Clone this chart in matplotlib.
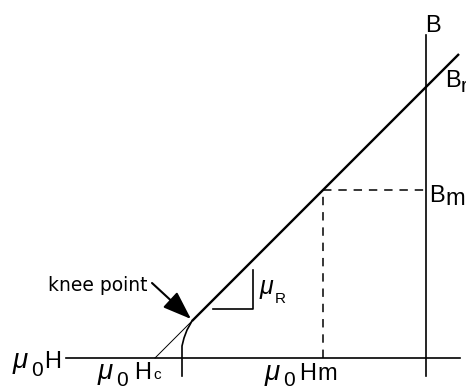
import matplotlib as mpl
mpl.use('Agg')
import matplotlib.pyplot as plt
from matplotlib.transforms import IdentityTransform

# recoil line of a permanent magnet in the second quadrant (units: mu0*H and B)
Br = 2.71            # remanence, where the recoil line cuts the B axis
mu_R = 1.0           # recoil permeability, slope of the line
H_knee = -2.34       # knee point
H_m = -1.03          # working point
H_end = 0.33         # line runs a little past the B axis
H_axis = [-3.60, 0.34]
B_axis = [-0.18, 3.23]

# bend of the curve below the knee point
knee_H = [-2.34, -2.39, -2.42, -2.44, -2.44, -2.44]
knee_B = [0.37, 0.28, 0.20, 0.12, 0.0, -0.18]

# little slope marker for mu_R
slope_H = [-2.13, -1.73, -1.73]
slope_B = [0.49, 0.49, 0.88]

B_knee = Br + mu_R * H_knee
H_c = -Br / mu_R
B_m = Br + mu_R * H_m

fig = plt.figure(figsize=(4.66, 3.92), dpi=100)
ax = fig.add_axes([0, 0, 1, 1])
ax.set_xlim(-4.26, 0.40)
ax.set_ylim(-0.34, 3.58)
ax.axis('off')

ax.plot(H_axis, [0, 0], color='black', lw=1.2)
ax.plot([0, 0], B_axis, color='black', lw=1.2)
ax.plot([H_knee, H_end], [B_knee, Br + mu_R * H_end], color='black', lw=1.7,
        solid_capstyle='butt')
ax.plot([H_c, H_knee], [0, B_knee], color='black', lw=0.7)
ax.plot(knee_H, knee_B, color='black', lw=1.2)
ax.plot([H_m, H_m, 0], [0, B_m, B_m], color='black', lw=1.1,
        linestyle=(0, (5.5, 4.5)))
ax.plot(slope_H, slope_B, color='black', lw=1.2)

ax.annotate('', xy=(H_knee - 0.01, B_knee + 0.02), xytext=(-2.74, 0.75),
            arrowprops=dict(arrowstyle='-|>,head_length=1.1,head_width=0.4',
                            mutation_scale=16, color='black', lw=1.5,
                            shrinkA=0, shrinkB=0))

renderer = fig.canvas.get_renderer()


def label(x, y, parts):
    # parts: (text, size, gap before in px, drop in px, italic)
    px, py = ax.transData.transform((x, y))
    for s, size, gap, drop, italic in parts:
        px += gap
        t = ax.text(px, py - drop, s, transform=IdentityTransform(),
                    fontsize=size, family='Liberation Sans',
                    style='italic' if italic else 'normal',
                    ha='left', va='baseline')
        px += t.get_window_extent(renderer).width


label(-4.13, -0.10, [('μ', 20, 0, 0, True), ('0', 15, 3, 8, False),
                     ('H', 17, 1, 0, False)])
label(-3.28, -0.21, [('μ', 20, 0, 0, True), ('0', 15, 3, 7, False),
                     ('H', 17, 6, 0, False), ('c', 11, 2, 0, False)])
label(-1.61, -0.22, [('μ', 20, 0, 0, True), ('0', 15, 3, 6, False),
                     ('H', 17, 4, 0, False), ('m', 17, 1, 0, False)])
label(-0.01, 3.26, [('B', 17, 0, 0, False)])
label(0.19, 2.71, [('B', 17, 0, 0, False), ('r', 15, 0, 5, False)])
label(0.03, 1.56, [('B', 17, 0, 0, False), ('m', 17, 1, 3, False)])
label(-1.66, 0.64, [('μ', 18, 0, 0, True), ('R', 11, 1, 9, False)])
ax.text(-3.78, 0.67, 'knee point', fontsize=13.5, family='DejaVu Sans',
        ha='left', va='baseline')

fig.savefig('out.png', dpi=100)
